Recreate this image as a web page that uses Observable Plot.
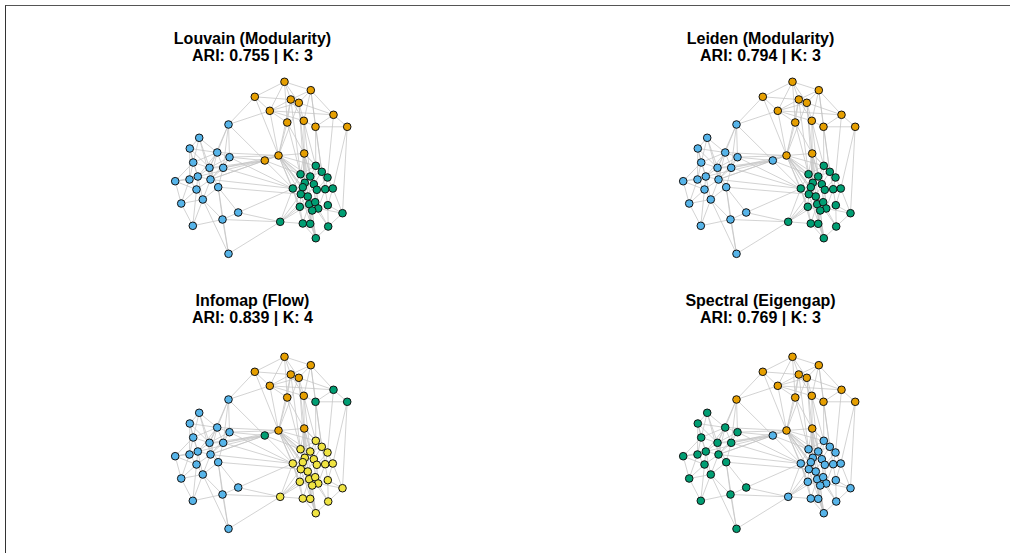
<!DOCTYPE html>
<html><head><meta charset="utf-8">
<script src="https://cdn.jsdelivr.net/npm/d3@7"></script>
<script src="https://cdn.jsdelivr.net/npm/@observablehq/plot@0.6"></script>
<style>
body{margin:0;background:#fff;width:1010px;height:553px;overflow:hidden;position:relative;font-family:"Liberation Sans",Arial,sans-serif}
.panel{position:absolute;width:505px;height:278px}
.title{position:absolute;width:505px;text-align:center;font-weight:bold;font-size:16px;line-height:17px;color:#000}
.frame{position:absolute;left:5px;top:5px;width:1100px;height:600px;border-left:1px solid #333;border-top:1px solid #555}
</style></head><body>
<div class="frame"></div>
<script>
// node ids: o = upper group, b = left group, g = lower-right group
const nodeIds = ["o1","o2","o3","o4","o5","o6","o7","o8","o9","o10","o11","o12","o13","o14",
  "b1","b2","b3","b4","b5","b6","b7","b8","b9","b10","b11","b12","b13","b14","b15","b16","b17","b18","b19","b20",
  "g1","g2","g3","g4","g5","g6","g7","g8","g9","g10","g11","g12","g13","g14","g15","g16","g17","g18","g19","g20","g21","g22","g23","g24","g25","g26"];
// layout coordinates (shared by all four panels)
const layoutX = [284,310.3,254.3,290.3,298.3,269.3,333,286.7,303.3,315,346.7,278,303.7,264.3,
  228,198.7,189.3,216.7,229,192.7,209,222.7,174.7,189,197.3,210,217.7,196,202.3,180.7,237.7,222,192.3,228,
  315.3,300,321.3,309.7,327,304.3,313.3,292.3,302.3,316.3,324.7,332.3,300.3,307.3,308.7,314.7,299.3,317.7,311.7,327.3,342,279.7,302.3,309.7,327.7,315.3];
const layoutY = [81.3,89.7,96.3,99,102.3,110.3,114.3,122,120.3,126.3,126.3,155,153,160,
  124,137.3,148,152,156.7,162,167.3,167.3,180.7,179,176,179,186.7,189,199,203,212,219,225.3,253.3,
  165.3,173.7,171.3,176,177,182.3,183.7,188,186.7,189.3,188.7,188,193.7,196,203.7,201.7,206.3,208,210,204.7,212.7,221.3,223,223.3,226,237.7];
const edgeList = [
  ["o1","o2"],["o1","o4"],["o1","o5"],["o1","o6"],["o1","o8"],["o1","o3"],
  ["o2","o4"],["o2","o5"],["o2","o7"],["o2","o9"],["o2","o10"],
  ["o3","o6"],["o3","o4"],["o3","o12"],["o3","b1"],
  ["o4","o5"],["o4","o8"],["o4","o12"],["o4","o9"],["o4","o6"],
  ["o5","o9"],["o5","o13"],["o5","o12"],["o5","o6"],["o5","o7"],
  ["o6","o7"],["o6","o12"],["o6","o8"],["o6","o9"],["o6","b1"],
  ["o7","o11"],["o7","o10"],["o8","o12"],["o8","o13"],["o9","o13"],["o9","o10"],["o10","o11"],
  ["o12","o13"],["o12","o14"],
  ["o2","g3"],["o4","g2"],["o5","g6"],["o8","g2"],["o9","g1"],["o9","g4"],["o10","g1"],["o10","g3"],
  ["o11","g12"],["o11","g21"],["o7","g5"],
  ["o12","g2"],["o12","g8"],["o12","g6"],["o12","g9"],["o12","g13"],["o12","g17"],["o12","g4"],["o12","g1"],
  ["o12","g18"],["o12","g25"],["o12","g10"],
  ["o13","g1"],["o13","g2"],["o13","g4"],["o13","g6"],["o13","g3"],["o13","g7"],["o13","g9"],["o13","g14"],["o13","g26"],
  ["o14","g2"],["o14","g8"],
  ["o14","b5"],["o14","b8"],["o14","b7"],["o14","b11"],["o14","b12"],["o14","b1"],
  ["o12","b5"],["o12","b4"],["o12","b8"],["o12","b12"],
  ["b1","b4"],["b1","b5"],["b1","b7"],["b1","b8"],
  ["b2","b3"],["b2","b4"],["b2","b6"],["b2","b7"],["b2","b12"],
  ["b3","b4"],["b3","b6"],["b3","b10"],["b3","b11"],["b3","b7"],
  ["b4","b5"],["b4","b6"],["b4","b7"],["b4","b8"],["b4","b11"],["b4","b12"],
  ["b5","b8"],["b5","b7"],["b5","b12"],
  ["b6","b7"],["b6","b10"],["b6","b11"],["b6","b9"],
  ["b7","b8"],["b7","b11"],["b7","b12"],["b7","b13"],
  ["b8","b12"],["b8","b13"],
  ["b9","b10"],["b9","b11"],["b9","b16"],["b9","b14"],
  ["b10","b11"],["b10","b14"],["b10","b16"],
  ["b11","b12"],["b11","b14"],["b11","b15"],
  ["b12","b13"],["b12","b14"],["b12","b15"],
  ["b13","b15"],["b13","b18"],["b13","b17"],
  ["b14","b15"],["b14","b16"],["b14","b19"],
  ["b15","b16"],["b15","b19"],["b15","b18"],
  ["b16","b19"],["b18","b19"],["b18","b20"],["b18","b17"],["b20","b15"],["b20","b13"],
  ["b8","g8"],["b12","g8"],["b13","g13"],["b5","g8"],["b17","g8"],["b18","g22"],["b20","g22"],["b17","g22"],
  ["g1","g2"],["g1","g3"],["g1","g4"],["g1","g7"],["g1","g5"],
  ["g2","g4"],["g2","g6"],["g2","g8"],["g2","g9"],
  ["g3","g4"],["g3","g5"],["g3","g7"],["g3","g11"],
  ["g4","g6"],["g4","g7"],["g4","g9"],["g4","g10"],
  ["g5","g11"],["g5","g12"],["g5","g10"],
  ["g6","g9"],["g6","g13"],["g6","g7"],
  ["g7","g10"],["g7","g14"],["g7","g16"],
  ["g8","g9"],["g8","g13"],["g8","g17"],["g8","g23"],
  ["g9","g13"],["g9","g14"],
  ["g10","g11"],["g10","g16"],["g10","g18"],
  ["g11","g12"],["g11","g20"],["g11","g18"],
  ["g12","g20"],["g12","g21"],
  ["g13","g14"],["g13","g17"],["g13","g15"],
  ["g14","g15"],["g14","g16"],["g14","g19"],
  ["g15","g16"],["g15","g19"],["g15","g23"],["g15","g24"],
  ["g16","g18"],["g16","g19"],["g17","g23"],["g17","g19"],
  ["g18","g19"],["g18","g20"],["g18","g25"],["g19","g24"],["g19","g26"],
  ["g20","g21"],["g20","g25"],["g21","g25"],["g21","g18"],
  ["g23","g24"],["g23","g26"],["g24","g26"],["g25","g26"],
  ["g22","g8"],["g22","g13"],["g22","g17"],["g22","g15"],["g22","g23"],["g22","g14"],
  ["g26","g2"],["g26","g13"],["g26","g9"]
];
// community colour codes per method: O orange, S sky blue, G green, Y yellow
const louvainMembers = ["O","O","O","O","O","O","O","O","O","O","O","O","O","O",
  "S","S","S","S","S","S","S","S","S","S","S","S","S","S","S","S","S","S","S","S",
  "G","G","G","G","G","G","G","G","G","G","G","G","G","G","G","G","G","G","G","G","G","G","G","G","G","G"];
const leidenMembers = ["O","O","O","O","O","O","O","O","O","O","O","O","O","S",
  "S","S","S","S","S","S","S","S","S","S","S","S","S","S","S","S","S","S","S","S",
  "G","G","G","G","G","G","G","G","G","G","G","G","G","G","G","G","G","G","G","G","G","G","G","G","G","G"];
const infomapMembers = ["O","O","O","O","O","O","G","O","O","G","G","O","O","G",
  "S","S","S","S","S","S","S","S","S","S","S","S","S","S","S","S","S","S","S","S",
  "Y","Y","Y","Y","Y","Y","Y","Y","Y","Y","Y","Y","Y","Y","Y","Y","Y","Y","Y","Y","Y","Y","Y","Y","Y","Y"];
const spectralMembers = ["O","O","O","O","O","O","O","O","O","O","O","O","O","S",
  "O","G","G","G","G","G","G","G","G","G","G","G","G","G","G","G","G","G","G","G",
  "S","S","S","S","S","S","S","S","S","S","S","S","S","S","S","S","S","S","S","S","S","S","S","S","S","S"];
const methodNames = ["Louvain (Modularity)","Leiden (Modularity)","Infomap (Flow)","Spectral (Eigengap)"];
const ariValues = ["0.755","0.794","0.839","0.769"];
const kValues = [3,3,4,3];
const colorCodes = ["O","S","G","Y"];
const colorValues = ["#E69F00","#56B4E9","#009E73","#F0E442"];

const memberSets = [louvainMembers, leidenMembers, infomapMembers, spectralMembers];
const panelLeft = [0,508,0,508];
const panelTop = [0,0,275,275];
const titleTop = [30,30,292,292];

memberSets.forEach((members, i) => {
  const nodes = nodeIds.map((id, j) => ({id, x: layoutX[j], y: layoutY[j], c: members[j]}));
  const byId = new Map(nodes.map(n => [n.id, n]));
  const links = edgeList.map(([a, b]) => ({x1: byId.get(a).x, y1: byId.get(a).y, x2: byId.get(b).x, y2: byId.get(b).y}));
  const chart = Plot.plot({
    width: 505, height: 278, margin: 0,
    x: {domain: [0, 505], range: [0, 505], axis: null},
    y: {domain: [0, 278], range: [0, 278], axis: null},
    color: {domain: colorCodes, range: colorValues},
    style: {background: "transparent"},
    marks: [
      Plot.link(links, {x1: "x1", y1: "y1", x2: "x2", y2: "y2", stroke: "#c4c4c4", strokeOpacity: 0.75, strokeWidth: 1}),
      Plot.dot(nodes, {x: "x", y: "y", r: 3.8, fill: "c", stroke: "#111", strokeWidth: 1})
    ]
  });
  const div = document.createElement("div");
  div.className = "panel";
  div.style.left = panelLeft[i] + "px";
  div.style.top = panelTop[i] + "px";
  div.appendChild(chart);
  document.body.appendChild(div);
  const t = document.createElement("div");
  t.className = "title";
  t.style.left = panelLeft[i] + "px";
  t.style.top = titleTop[i] + "px";
  t.innerHTML = methodNames[i] + "<br>ARI: " + ariValues[i] + " | K: " + kValues[i];
  document.body.appendChild(t);
});
</script>
</body></html>
